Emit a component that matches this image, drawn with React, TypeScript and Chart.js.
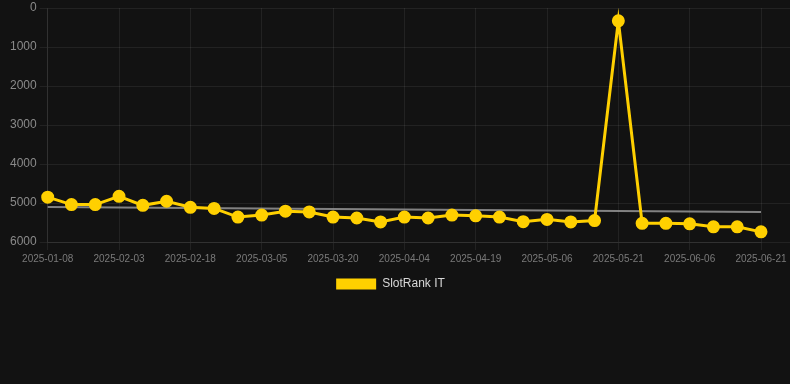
import React, { useEffect, useRef } from "react";
import { Chart, registerables } from "chart.js";

Chart.register(...registerables);

const dates = [
  "2025-01-08", "2025-01-17", "2025-01-26", "2025-02-03", "2025-02-08", "2025-02-13",
  "2025-02-18", "2025-02-23", "2025-02-28", "2025-03-05", "2025-03-10", "2025-03-15",
  "2025-03-20", "2025-03-25", "2025-03-30", "2025-04-04", "2025-04-09", "2025-04-14",
  "2025-04-19", "2025-04-25", "2025-04-30", "2025-05-06", "2025-05-11", "2025-05-16",
  "2025-05-21", "2025-05-26", "2025-05-31", "2025-06-06", "2025-06-11", "2025-06-16",
  "2025-06-21",
];

const slotRankIT = [
  4850, 5040, 5040, 4830, 5060, 4955, 5110, 5140, 5360, 5310,
  5210, 5230, 5360, 5385, 5485, 5360, 5385, 5310, 5330, 5360,
  5480, 5420, 5485, 5450, 330, 5520, 5520, 5535, 5610, 5610,
  5740,
];

const trendStart = 5105;
const trendEnd = 5230;
const trend: (number | null)[] = dates.map((_, i) =>
  i === 0 ? trendStart : i === dates.length - 1 ? trendEnd : null
);

const yTicks = [0, 1000, 2000, 3000, 4000, 5000, 6000];

const GRID = "rgba(255,255,255,0.07)";
const GOLD = "rgb(255, 208, 0)";
const FONT = "Liberation Sans, Arial, sans-serif";

const legendShift = {
  id: "legendShift",
  afterLayout(chart: any) {
    const lg = chart.legend;
    if (lg) {
      lg.left -= 8;
      lg.right -= 8;
    }
  },
};

export default function App() {
  const ref = useRef<HTMLCanvasElement | null>(null);

  useEffect(() => {
    document.body.style.margin = "0";
    document.body.style.background = "#121212";
    if (!ref.current) return;
    const chart = new Chart(ref.current, {
      type: "line",
      plugins: [legendShift],
      data: {
        labels: dates,
        datasets: [
          {
            label: "SlotRank IT",
            data: slotRankIT,
            borderColor: GOLD,
            backgroundColor: GOLD,
            borderWidth: 3,
            pointRadius: 5,
            pointHoverRadius: 5,
            pointBackgroundColor: GOLD,
            pointBorderColor: GOLD,
            tension: 0,
            order: 1,
          },
          {
            label: "trend",
            data: trend,
            borderColor: "rgba(150,150,150,0.85)",
            backgroundColor: "rgba(150,150,150,0.85)",
            borderWidth: 2,
            pointRadius: 0,
            spanGaps: true,
            order: 2,
          },
        ],
      },
      options: {
        animation: false,
        responsive: true,
        maintainAspectRatio: false,
        layout: { padding: { left: 7, top: 0, right: 0, bottom: 0 } },
        plugins: {
          legend: {
            position: "bottom",
            labels: {
              color: "#d8d8d8",
              font: { size: 12, family: FONT },
              boxWidth: 40,
              boxHeight: 11,
              filter: (item) => item.text !== "trend",
              generateLabels: (c) =>
                Chart.defaults.plugins.legend.labels
                  .generateLabels(c)
                  .map((l) => ({ ...l, lineWidth: 0, strokeStyle: "transparent" })),
            },
          },
          tooltip: { enabled: false },
        },
        scales: {
          x: {
            ticks: {
              autoSkip: false,
              maxRotation: 0,
              color: "#7a7a7a",
              font: { size: 10, family: FONT },
              callback: (_v, i) => (i % 3 === 0 ? dates[i] : ""),
            },
            grid: {
              color: (ctx) => (ctx.index % 3 === 0 ? GRID : "transparent"),
              tickLength: 8,
            },
            border: { color: GRID },
          },
          y: {
            reverse: true,
            min: yTicks[0],
            max: yTicks[yTicks.length - 1],
            ticks: {
              stepSize: 1000,
              color: "#8a8a8a",
              font: { size: 12, family: FONT, lineHeight: 0.7 },
              callback: (v) => String(v),
            },
            grid: { color: GRID, tickLength: 8 },
            border: { color: GRID },
          },
          y2: {
            position: "right",
            reverse: true,
            min: yTicks[0],
            max: yTicks[yTicks.length - 1],
            ticks: { display: false, stepSize: 1000 },
            grid: { color: GRID, drawOnChartArea: false, tickLength: 29 },
            border: { display: false },
          },
        },
      },
    });
    return () => chart.destroy();
  }, []);

  return (
    <div style={{ width: 790, height: 300, position: "relative" }}>
      <canvas ref={ref} />
    </div>
  );
}
